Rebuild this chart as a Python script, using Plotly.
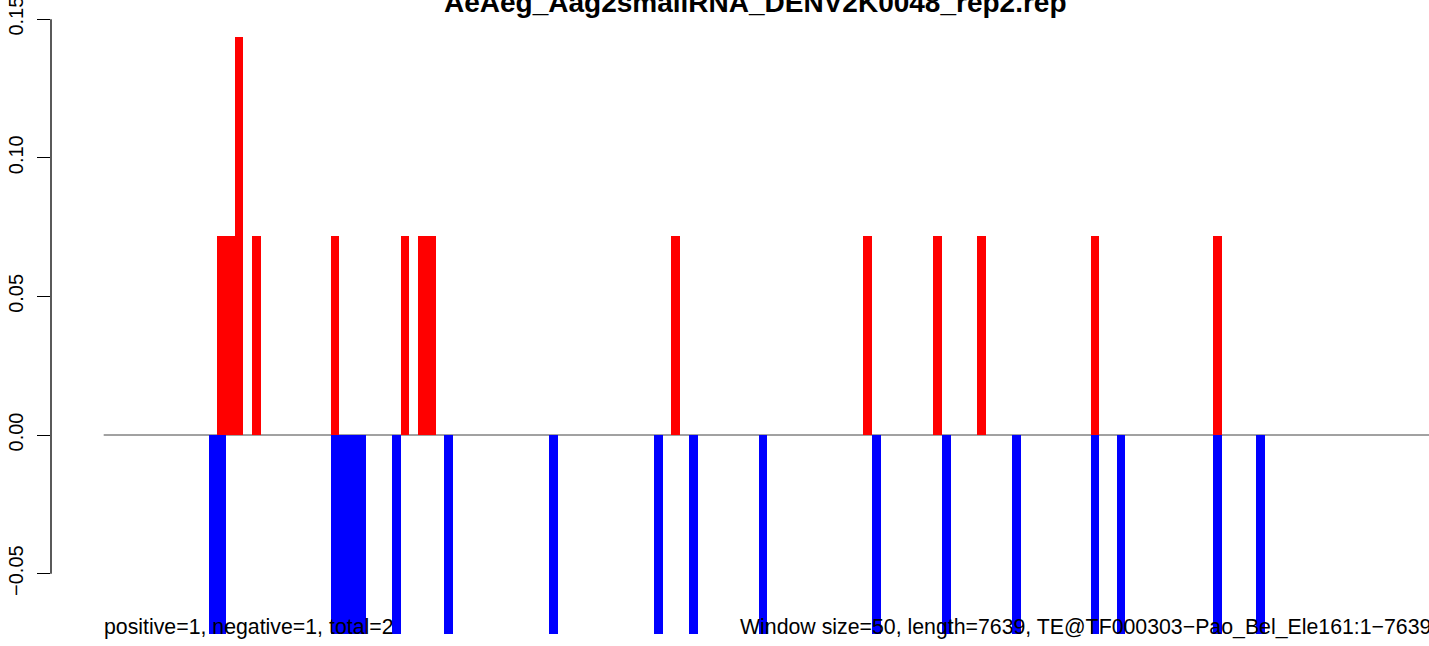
import plotly.graph_objects as go

# ---- data (bins of 50 nt along a 7639 nt element) ----
n_bins = 153
pos_bins = [13, 14, 15, 17, 26, 34, 36, 37, 65, 87, 95, 100, 113, 127]
pos_vals = [0.0717, 0.0717, 0.1434, 0.0717, 0.0717, 0.0717, 0.0717, 0.0717,
            0.0717, 0.0717, 0.0717, 0.0717, 0.0717, 0.0717]
neg_bins = [12, 13, 26, 27, 28, 29, 33, 39, 51, 63, 67, 75, 88, 96, 104, 113,
            116, 127, 132]
neg_vals = [-0.0717] * len(neg_bins)

ytick_vals = [-0.05, 0.0, 0.05, 0.10, 0.15]
ytick_text = ["\u22120.05", "0.00", "0.05", "0.10", "0.15"]

title = "AeAeg_Aag2smallRNA_DENV2K0048_rep2.rep"
left_note = "positive=1, negative=1, total=2"
right_note = "Window size=50, length=7639, TE@TF000303\u2212Pao_Bel_Ele161:1\u22127639"

FONT = "Liberation Sans, Arial, Helvetica, sans-serif"

fig = go.Figure()
fig.add_trace(go.Bar(x=[b + 0.5 for b in pos_bins], y=pos_vals, width=1.0,
                     marker=dict(color="#FF0000", line=dict(width=0)),
                     showlegend=False))
fig.add_trace(go.Bar(x=[b + 0.5 for b in neg_bins], y=neg_vals, width=1.0,
                     marker=dict(color="#0000FF", line=dict(width=0)),
                     showlegend=False))

# zero line spanning the bins
fig.add_shape(type="line", xref="x", yref="y", x0=0, x1=n_bins, y0=0, y1=0,
              line=dict(color="#444444", width=1), layer="below")
# R-style y axis line (only between first and last tick)
fig.add_shape(type="line", xref="paper", yref="y", x0=0, x1=0,
              y0=ytick_vals[0], y1=ytick_vals[-1],
              line=dict(color="black", width=1.3))

fig.add_annotation(text="<b>" + title + "</b>", xref="paper", yref="paper",
                   x=0.511, y=1, xanchor="center", yanchor="bottom", yshift=-20,
                   showarrow=False, font=dict(family=FONT, size=28, color="black"))
fig.add_annotation(text=left_note, xref="paper", yref="paper",
                   x=0.037, y=0, xanchor="left", yanchor="bottom", yshift=5,
                   showarrow=False, font=dict(family=FONT, size=21.3, color="black"))
fig.add_annotation(text=right_note, xref="paper", yref="paper",
                   x=0.4985, y=0, xanchor="left", yanchor="bottom", yshift=5,
                   showarrow=False, font=dict(family=FONT, size=21.3, color="black"))

fig.update_layout(
    width=1429, height=646,
    margin=dict(l=51, r=0, t=0, b=0, autoexpand=False),
    paper_bgcolor="white", plot_bgcolor="white",
    barmode="overlay", bargap=0,
    font=dict(family=FONT, color="black"),
    xaxis=dict(range=[-6.035, 151.76], showgrid=False, zeroline=False,
               showline=False, showticklabels=False, ticks="", automargin=False),
    yaxis=dict(range=[-0.0761, 0.1569], showgrid=False, zeroline=False,
               showline=False, tickmode="array", tickvals=ytick_vals,
               ticktext=ytick_text, ticks="outside", ticklen=13, tickwidth=1.3,
               tickcolor="black", tickangle=-90, ticklabelstandoff=6,
               ticklabeloverflow="allow", automargin=False,
               tickfont=dict(family=FONT, size=20, color="black")),
)

fig.write_html("out.html", config={"displayModeBar": False},
               post_script="document.body.style.margin='0';")
